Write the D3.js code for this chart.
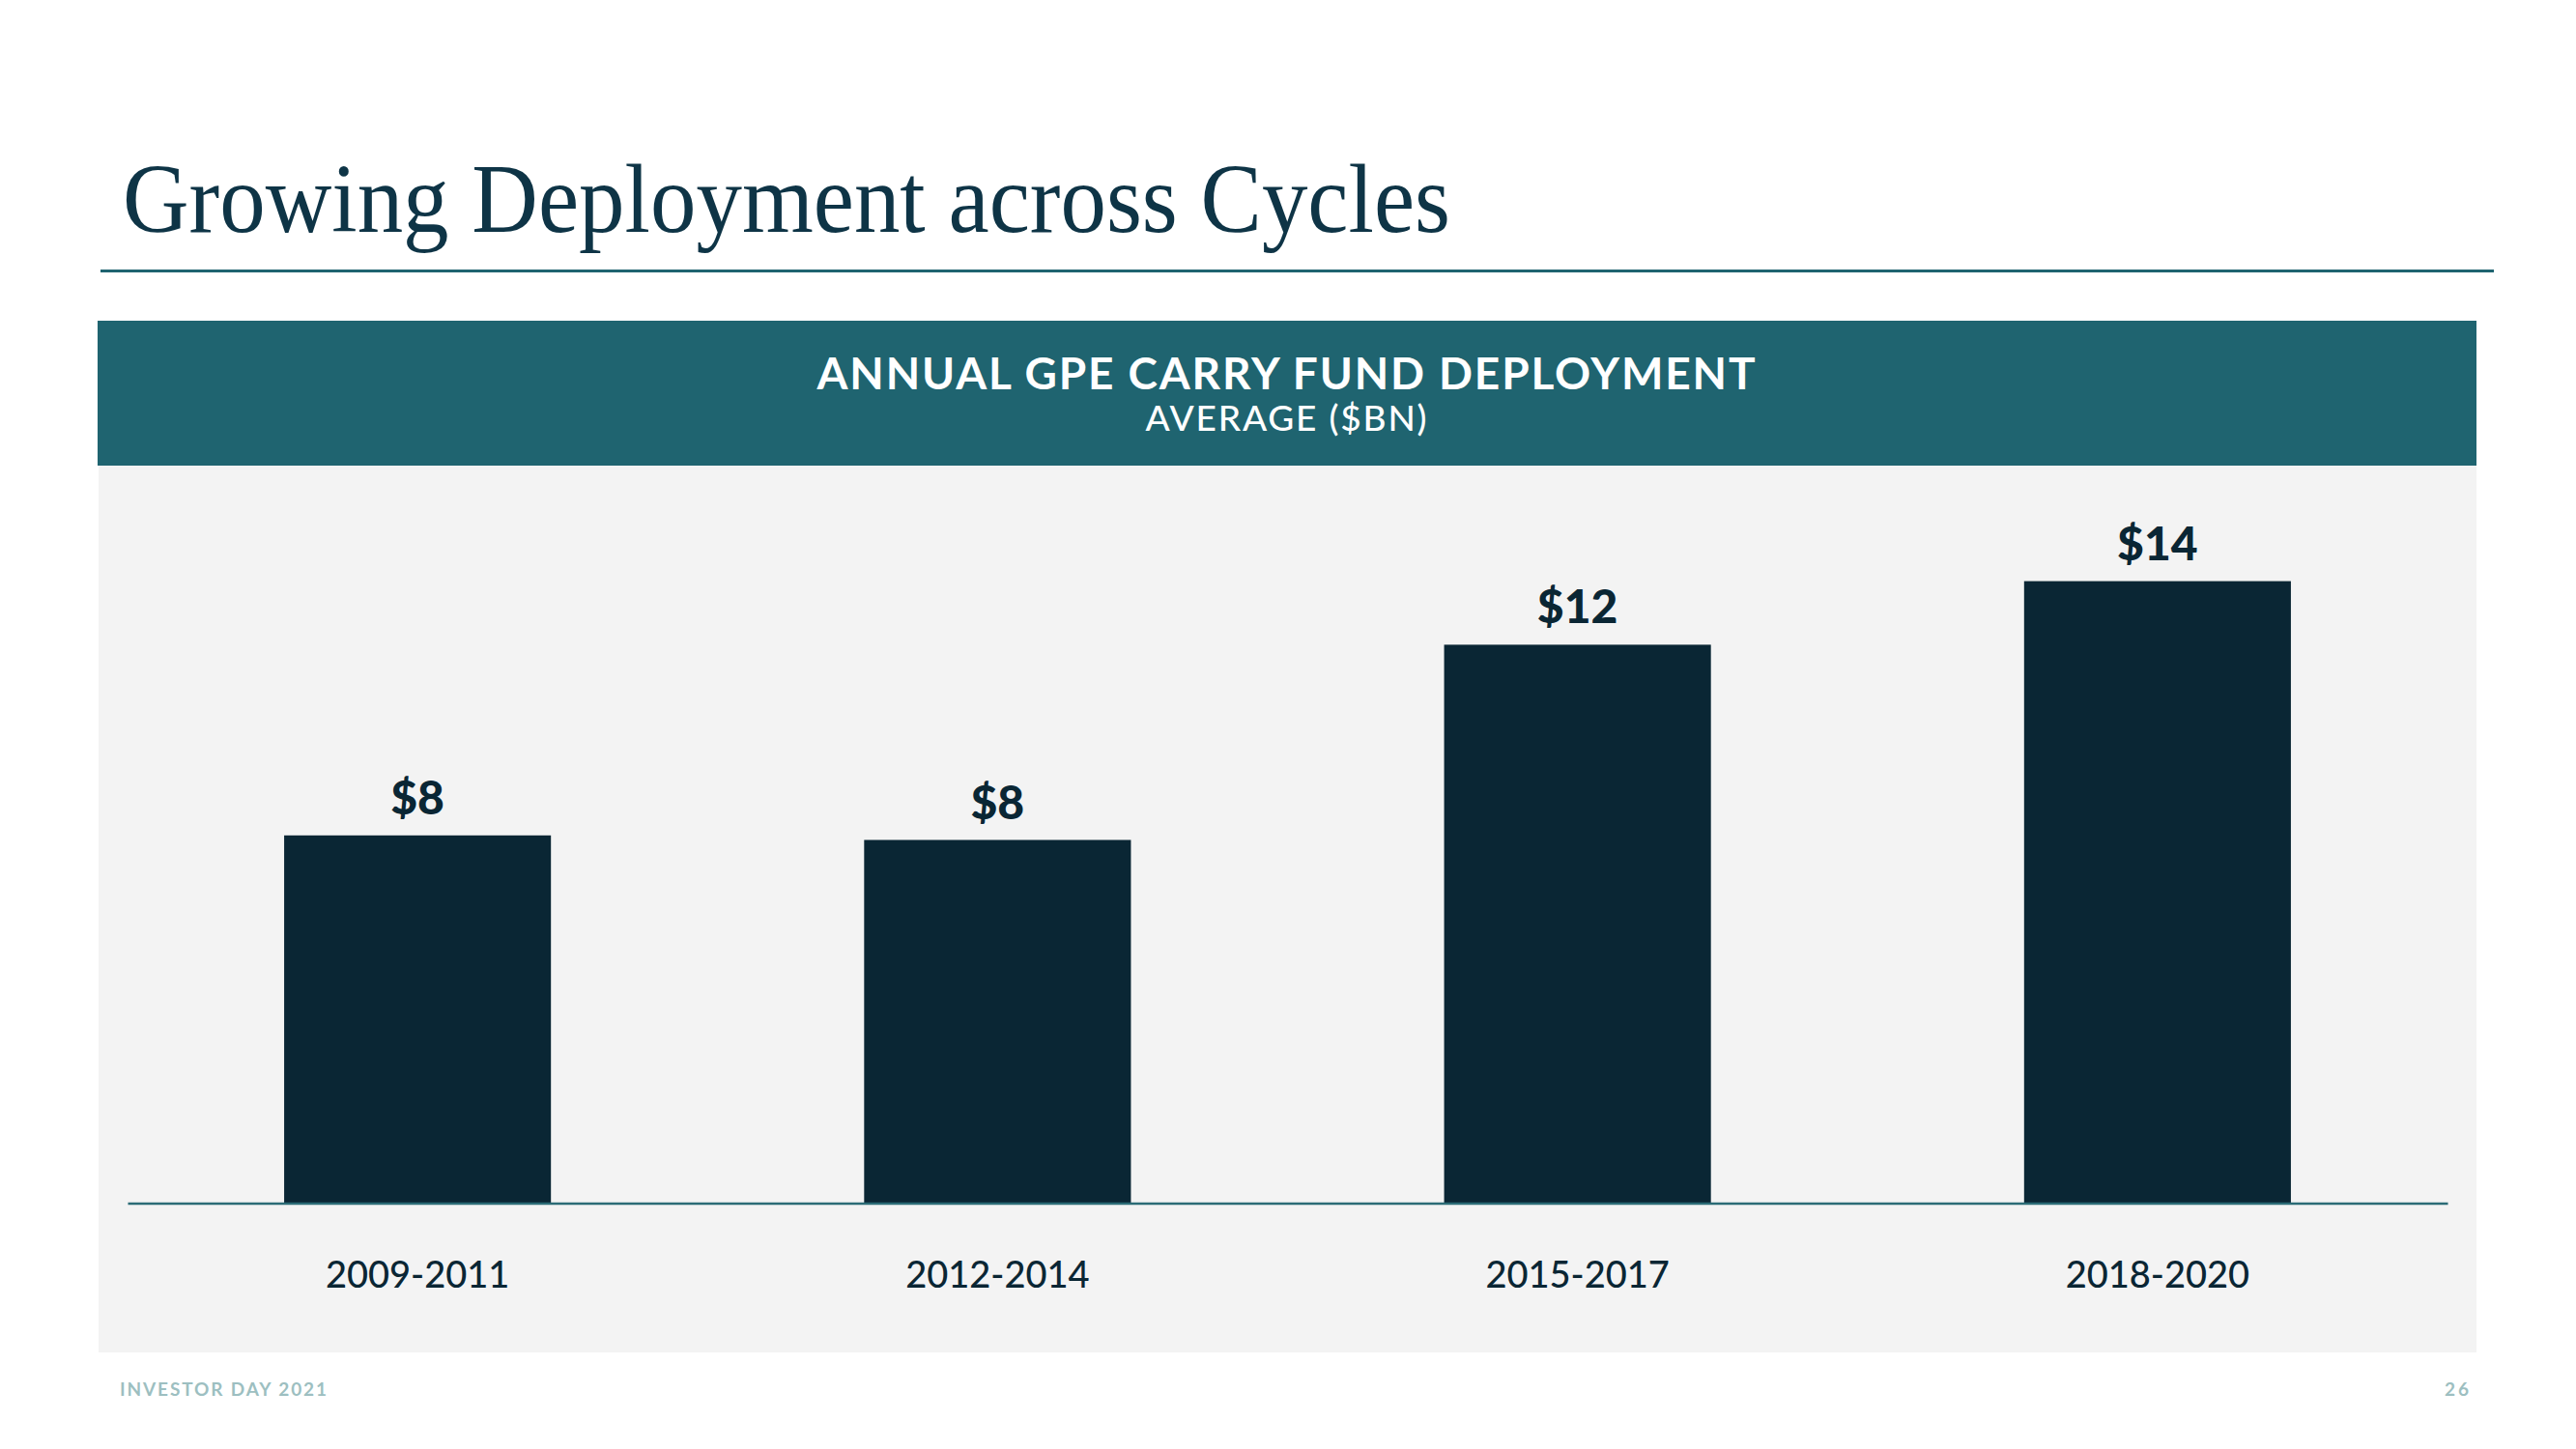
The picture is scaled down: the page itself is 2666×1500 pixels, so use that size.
<!DOCTYPE html>
<html>
<head>
<meta charset="utf-8">
<script src="https://cdn.jsdelivr.net/npm/d3@7"></script>
<style>
  html, body { margin: 0; padding: 0; background: #ffffff; }
  svg { display: block; }
</style>
</head>
<body>
<script>
// ---- data ----
const categories = ["2009-2011", "2012-2014", "2015-2017", "2018-2020"];
const values = [8.1, 8.0, 12.3, 13.7];
const valueLabels = ["$8", "$8", "$12", "$14"];
const titleText = "Growing Deployment across Cycles";
const headerTitle = "ANNUAL GPE CARRY FUND DEPLOYMENT";
const headerSubtitle = "AVERAGE ($BN)";
const footerLeft = "INVESTOR DAY 2021";
const footerRight = "26";

// ---- layout ----
const W = 2666, H = 1500;
const svg = d3.select("body").append("svg").attr("width", W).attr("height", H);

const C = {
  title: "#0e3446",
  rule: "#1f6470",
  band: "#1f6470",
  panel: "#f3f3f3",
  bar: "#0a2634",
  axis: "#2b6b76",
  text: "#0a2634",
  footer: "#9dbfc1"
};

// title
svg.append("text")
  .attr("x", 127).attr("y", 240)
  .attr("font-family", "'Liberation Serif', 'DejaVu Serif', serif")
  .attr("font-size", 102)
  .attr("fill", C.title)
  .attr("textLength", 1374)
  .attr("lengthAdjust", "spacingAndGlyphs")
  .text(titleText);

svg.append("rect").attr("x", 104).attr("y", 279).attr("width", 2477).attr("height", 3).attr("fill", C.rule);

// panel + header band
svg.append("rect").attr("x", 102).attr("y", 481).attr("width", 2461).attr("height", 919).attr("fill", C.panel);
svg.append("rect").attr("x", 101).attr("y", 332).attr("width", 2462).attr("height", 150).attr("fill", C.band);

svg.append("text")
  .attr("x", 1331).attr("y", 403)
  .attr("text-anchor", "middle")
  .attr("font-family", "Lato, 'Open Sans', sans-serif")
  .attr("font-weight", 700)
  .attr("font-size", 46)
  .attr("fill", "#ffffff")
  .attr("textLength", 971)
  .attr("lengthAdjust", "spacing")
  .text(headerTitle);

svg.append("text")
  .attr("x", 1331).attr("y", 446)
  .attr("text-anchor", "middle")
  .attr("font-family", "Lato, 'Open Sans', sans-serif")
  .attr("font-weight", 500)
  .attr("font-size", 37)
  .attr("fill", "#ffffff")
  .attr("textLength", 291)
  .attr("lengthAdjust", "spacing")
  .text(headerSubtitle);

// scales
const x = d3.scaleBand().domain(categories).range([132, 2533]).paddingInner(0.54).paddingOuter(0.27);
const y = d3.scaleLinear().domain([0, 15]).range([1245.5, 540.5]);

const g = svg.append("g");

g.selectAll("rect.bar").data(categories).join("rect")
  .attr("class", "bar")
  .attr("x", d => x(d))
  .attr("width", x.bandwidth())
  .attr("y", (d, i) => y(values[i]))
  .attr("height", (d, i) => y(0) - y(values[i]))
  .attr("fill", C.bar);

g.selectAll("text.val").data(categories).join("text")
  .attr("class", "val")
  .attr("x", d => x(d) + x.bandwidth() / 2)
  .attr("y", (d, i) => y(values[i]) - 22)
  .attr("text-anchor", "middle")
  .attr("font-family", "Lato, 'Open Sans', sans-serif")
  .attr("font-weight", 900)
  .attr("font-size", 48)
  .attr("fill", C.text)
  .text((d, i) => valueLabels[i]);

// x axis
const xAxis = d3.axisBottom(x).tickSize(0).tickPadding(0);
const ax = svg.append("g").attr("transform", `translate(0, ${y(0)})`).call(xAxis);
ax.select(".domain").attr("stroke", C.axis).attr("stroke-width", 2.5);
ax.selectAll(".tick text")
  .attr("dy", 0)
  .attr("y", 87)
  .attr("font-family", "Lato, 'Open Sans', sans-serif")
  .attr("font-weight", 500)
  .attr("font-size", 38)
  .attr("fill", C.text);

// footer
svg.append("text")
  .attr("x", 124).attr("y", 1445)
  .attr("font-family", "Lato, 'Open Sans', sans-serif")
  .attr("font-weight", 700)
  .attr("font-size", 19)
  .attr("fill", C.footer)
  .attr("textLength", 214)
  .attr("lengthAdjust", "spacing")
  .text(footerLeft);

svg.append("text")
  .attr("x", 2558).attr("y", 1445)
  .attr("text-anchor", "end")
  .attr("font-family", "Lato, 'Open Sans', sans-serif")
  .attr("font-weight", 700)
  .attr("font-size", 19)
  .attr("letter-spacing", 3)
  .attr("fill", C.footer)
  .text(footerRight);
</script>
</body>
</html>
